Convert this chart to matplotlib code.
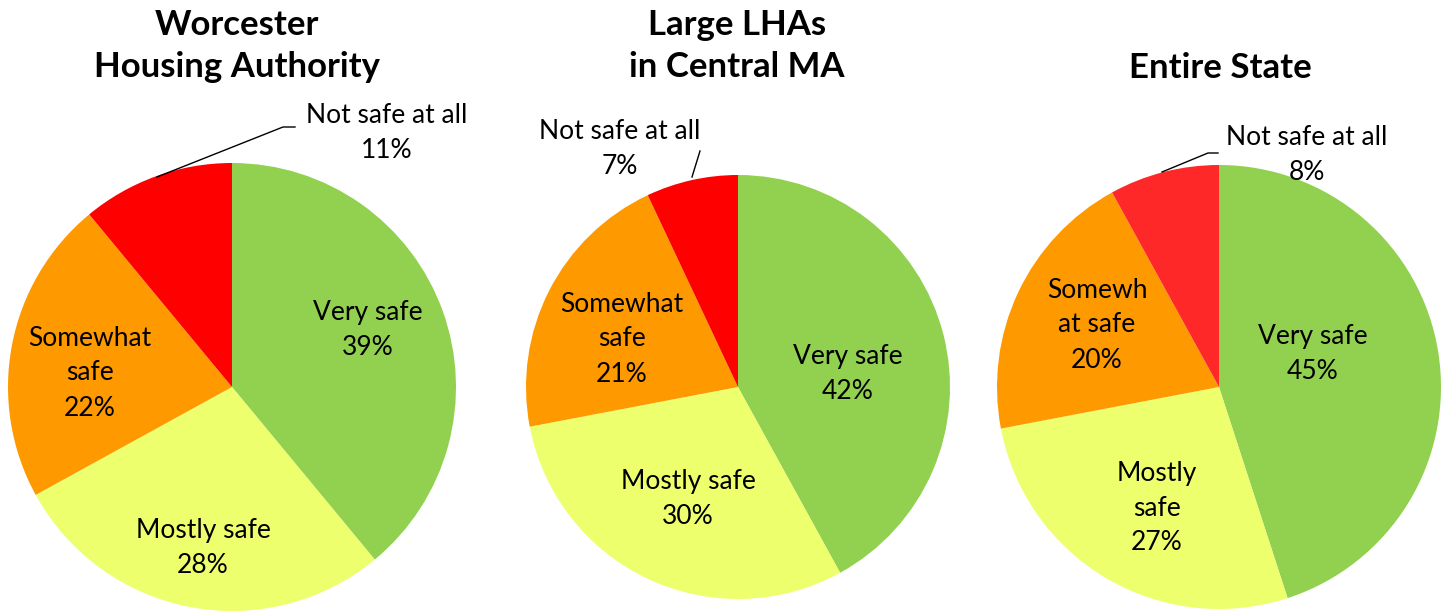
import matplotlib.pyplot as plt
import numpy as np

plt.rcParams['font.family'] = ['Lato', 'DejaVu Sans']

# Data
categories = ['Very safe', 'Mostly safe', 'Somewhat safe', 'Not safe at all']
titles = ['Worcester\nHousing Authority', 'Large LHAs\nin Central MA', 'Entire State']
worcester = [39, 28, 22, 11]
central_ma = [42, 30, 21, 7]
entire_state = [45, 27, 20, 8]

# Label text per pie (Excel wraps them differently)
label_text = [
    ['Very safe', 'Mostly safe', 'Somewhat\nsafe', 'Not safe at all'],
    ['Very safe', 'Mostly safe', 'Somewhat\nsafe', 'Not safe at all'],
    ['Very safe', 'Mostly\nsafe', 'Somewh\nat safe', 'Not safe at all'],
]

colors = ['#92D050', '#EEFF6E', '#FF9900', '#FF0000']
red_state = '#FF2828'

# layout in pixel coordinates (y up)
W, H = 1449, 611
centers = [(232, 611 - 387), (738, 611 - 387), (1219, 611 - 387)]
radii = [224, 212, 222]
title_xy = [(237, 611 - 46), (737, 611 - 46), (1220, 611 - 68)]
# inner label offsets (dx, dy) from pie center
inner_off = [
    [(136, 57), (-29, -161), (-142, 14)],
    [(110, 13), (-50, -112), (-116, 48)],
    [(94, 33), (-62, -121), (-122, 62)],
]
# outside label position and leader line points
outer_lbl = [(387, 611 - 133), (620, 611 - 149), (1307, 611 - 155)]
leaders = [
    [(157, 611 - 177), (283, 611 - 127), (295, 611 - 127)],
    [(692, 611 - 177), (700, 611 - 151)],
    [(1162, 611 - 172), (1208, 611 - 153), (1218, 611 - 153)],
]

fig = plt.figure(figsize=(W / 100, H / 100), dpi=100)
ax = fig.add_axes([0, 0, 1, 1])

for i, vals in enumerate([worcester, central_ma, entire_state]):
    cols = list(colors)
    if i == 2:
        cols[3] = red_state
    ax.pie(vals, colors=cols, startangle=90, counterclock=False,
           center=centers[i], radius=radii[i], frame=True,
           wedgeprops=dict(linewidth=0))
    cx, cy = centers[i]
    for j in range(3):
        dx, dy = inner_off[i][j]
        ax.text(cx + dx, cy + dy, f'{label_text[i][j]}\n{vals[j]}%',
                ha='center', va='center', fontsize=19, linespacing=1.5)
    ox, oy = outer_lbl[i]
    ax.text(ox, oy, f'{label_text[i][3]}\n{vals[3]}%',
            ha='center', va='center', fontsize=19, linespacing=1.5)
    xs, ys = zip(*leaders[i])
    ax.plot(xs, ys, color='black', linewidth=1)
    tx, ty = title_xy[i]
    ax.text(tx, ty, titles[i], ha='center', va='center', fontsize=25,
            fontweight='bold', linespacing=1.38)

ax.set_xlim(0, W)
ax.set_ylim(0, H)
ax.set_aspect('equal')
ax.axis('off')

plt.savefig('out.png', dpi=100)
